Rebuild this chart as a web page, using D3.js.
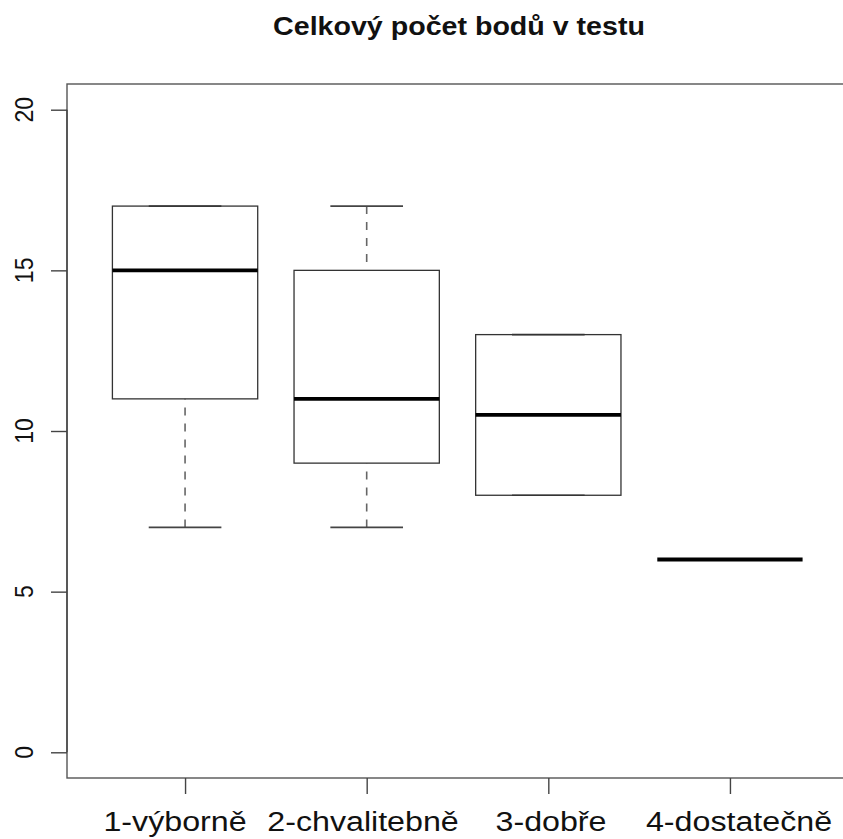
<!DOCTYPE html>
<html>
<head>
<meta charset="utf-8">
<script src="https://cdn.jsdelivr.net/npm/d3@7"></script>
<style>
  body { margin: 0; background: #fff; }
  text { font-family: "Liberation Sans", Arial, sans-serif; fill: #111; }
  .title { font-weight: bold; }
</style>
</head>
<body>
<svg width="843" height="839"></svg>
<script>
// box statistics per grade
const categories = ['1-výborně', '2-chvalitebně', '3-dobře', '4-dostatečně'];
const lowWhisker = [7, 7, 8, 6];
const q1 = [11, 9, 8, 6];
const median = [15, 11, 10.5, 6];
const q3 = [17, 15, 13, 6];
const highWhisker = [17, 17, 13, 6];
const yTicks = [0, 5, 10, 15, 20];
const title = 'Celkový počet bodů v testu';

const plotLeft = 67, plotRight = 851, plotTop = 84, plotBottom = 778;
const stretch = 1.15; // the picture is a little wider than tall

const svg = d3.select('svg');

const data = categories.map((c, i) => ({
  cat: c, lo: lowWhisker[i], q1: q1[i], med: median[i], q3: q3[i], hi: highWhisker[i]
}));

// R style: ylim 0..20 extended by 4 %
const yScale = d3.scaleLinear()
  .domain([-0.8, 20.8])
  .range([plotBottom, plotTop]);

const xScale = d3.scalePoint()
  .domain(categories)
  .range([plotLeft, 848])
  .padding(0.65);

// labels in the original sit slightly wider apart than the ticks
const labelScale = d3.scalePoint()
  .domain(categories)
  .range([175, 739]);

const step = xScale.step();
const boxW = step * 0.8;
const stapleW = boxW * 0.5;

// frame
svg.append('rect')
  .attr('x', plotLeft)
  .attr('y', plotTop)
  .attr('width', plotRight - plotLeft)
  .attr('height', plotBottom - plotTop)
  .attr('fill', 'none')
  .attr('stroke', '#555')
  .attr('stroke-width', 1.4);

// y axis
const yAxis = svg.append('g')
  .attr('transform', `translate(${plotLeft},0)`)
  .call(d3.axisLeft(yScale).tickValues(yTicks).tickSize(16).tickPadding(0).tickFormat(''));
yAxis.select('.domain')
  .attr('d', `M0,${yScale(0)}V${yScale(20)}`)
  .attr('stroke', '#444')
  .attr('stroke-width', 1.4);
yAxis.selectAll('.tick line').attr('stroke', '#444').attr('stroke-width', 1.4);

svg.append('g').selectAll('text')
  .data(yTicks)
  .enter()
  .append('text')
  .attr('transform', (d) => `translate(33,${yScale(d)}) scale(${stretch},1) rotate(-90)`)
  .attr('text-anchor', 'middle')
  .style('font-size', '23px')
  .text((d) => d);

// x axis
const xAxis = svg.append('g')
  .attr('transform', `translate(0,${plotBottom})`)
  .call(d3.axisBottom(xScale).tickSize(16).tickFormat(''));
xAxis.select('.domain').remove();
xAxis.selectAll('.tick line').attr('stroke', '#444').attr('stroke-width', 1.4);

svg.append('g').selectAll('text')
  .data(categories)
  .enter()
  .append('text')
  .attr('transform', (d) => `translate(${labelScale(d)},831) scale(${stretch},1)`)
  .attr('text-anchor', 'middle')
  .style('font-size', '28px')
  .text((d) => d);

// boxes
const boxes = svg.append('g').selectAll('g')
  .data(data)
  .enter()
  .append('g');

// whiskers
boxes.filter((d) => d.q1 > d.lo)
  .append('line')
  .attr('x1', (d) => xScale(d.cat))
  .attr('x2', (d) => xScale(d.cat))
  .attr('y1', (d) => yScale(d.lo))
  .attr('y2', (d) => yScale(d.q1))
  .attr('stroke', '#666')
  .attr('stroke-width', 1.6)
  .attr('stroke-dasharray', '8,8');

boxes.filter((d) => d.hi > d.q3)
  .append('line')
  .attr('x1', (d) => xScale(d.cat))
  .attr('x2', (d) => xScale(d.cat))
  .attr('y1', (d) => yScale(d.hi))
  .attr('y2', (d) => yScale(d.q3))
  .attr('stroke', '#666')
  .attr('stroke-width', 1.6)
  .attr('stroke-dasharray', '8,8');

// staples
['lo', 'hi'].forEach((k) => {
  boxes.append('line')
    .attr('x1', (d) => xScale(d.cat) - stapleW / 2)
    .attr('x2', (d) => xScale(d.cat) + stapleW / 2)
    .attr('y1', (d) => yScale(d[k]))
    .attr('y2', (d) => yScale(d[k]))
    .attr('stroke', '#444')
    .attr('stroke-width', 1.6);
});

boxes.append('rect')
  .attr('x', (d) => xScale(d.cat) - boxW / 2)
  .attr('y', (d) => yScale(d.q3))
  .attr('width', boxW)
  .attr('height', (d) => yScale(d.q1) - yScale(d.q3))
  .attr('fill', 'none')
  .attr('stroke', '#333')
  .attr('stroke-width', 1.3);

boxes.append('line')
  .attr('x1', (d) => xScale(d.cat) - boxW / 2)
  .attr('x2', (d) => xScale(d.cat) + boxW / 2)
  .attr('y1', (d) => yScale(d.med))
  .attr('y2', (d) => yScale(d.med))
  .attr('stroke', '#000')
  .attr('stroke-width', 3.8);

// title
svg.append('text')
  .attr('class', 'title')
  .attr('transform', `translate(${(plotLeft + plotRight) / 2},35) scale(1.1,1)`)
  .attr('text-anchor', 'middle')
  .style('font-size', '26px')
  .text(title);
</script>
</body>
</html>
